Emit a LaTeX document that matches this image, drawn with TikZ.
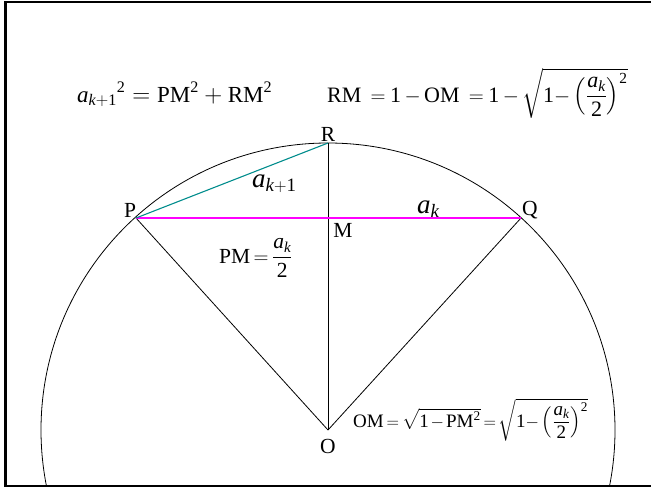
\documentclass[tikz,border=0pt]{standalone}
\usepackage{amsmath}
\usepackage{fontspec}
\setmainfont{Liberation Serif}
\newcommand\Va{\mathit{a}}
\newcommand\Vk{\mathit{k}}
\newcommand\Dg[1]{\mathrm{#1}}
\definecolor{tealline}{RGB}{0,140,140}
\definecolor{magline}{RGB}{255,0,255}
\tikzset{
  lbl/.style={inner sep=0pt,font=\fontsize{21.5}{24}\selectfont},
  biglbl/.style={inner sep=0pt,font=\fontsize{27}{30}\selectfont},
  topf/.style={inner sep=0pt,font=\fontsize{22}{25}\selectfont},
  botf/.style={inner sep=0pt,font=\fontsize{19}{22}\selectfont},
  tight/.style={execute at begin node={\thickmuskip=3mu plus 1mu\relax\medmuskip=2mu plus 1mu\relax}},
  midsp/.style={execute at begin node={\thickmuskip=4mu plus 1mu\relax\medmuskip=3mu plus 1mu\relax}},
  seg/.style={line width=0.8pt,black},
}
\begin{document}
\begin{tikzpicture}[x=1pt,y=-1pt]
\useasboundingbox (0,0) rectangle (651,488);
% frame
\draw[line width=2.5pt] (651,2) -- (5.5,2) -- (5.5,486) -- (651,486);
% circle
\begin{scope}
\clip (5.5,2) rectangle (651,486);
\draw[line width=0.8pt] (328,430) circle[radius=287];
\end{scope}
% points
\coordinate (O) at (328,430);
\coordinate (R) at (328,143);
\coordinate (P) at (136,218);
\coordinate (Q) at (521,218);
\coordinate (M) at (328,218);
% segments
\draw[seg] (O) -- (P);
\draw[seg] (O) -- (Q);
\draw[seg] (O) -- (R);
\draw[line width=1.1pt,magline] (P) -- (Q);
\draw[line width=1.1pt,tealline] (P) -- (R);
% point labels
\node[lbl] (lR) at (328,134) {R};
\node[lbl] (lP) at (130,210) {P};
\node[lbl] (lQ) at (530,210) {Q};
\node[lbl] (lM) at (343,230) {M};
\node[lbl] (lO) at (328,446) {O};
% side labels
\node[biglbl,anchor=base west] (lak1) at (252,187) {$\Va_{\Vk+\Dg{1}}$};
\node[biglbl,anchor=base west] (lak) at (417,213) {$\Va_{\Vk}$};
% formulas
\node[topf,anchor=base west,font=\fontsize{23}{26}\selectfont] (f1) at (77,102) {${\Va_{\Vk+\Dg{1}}}^{\Dg{2}} = \mathrm{PM}^{\Dg{2}} + \mathrm{RM}^{\Dg{2}}$};
\node[topf,midsp,anchor=base west] (f2) at (327,102) {$\mathrm{RM}\;= \Dg{1} - \mathrm{OM}\;= \Dg{1} - \sqrt{\Dg{1}{-}\left(\dfrac{\Va_{\Vk}}{\Dg{2}}\right)^{\Dg{2}}}$};
\node[lbl,tight,anchor=base west] (f3) at (219,263) {$\mathrm{PM} = \dfrac{\Va_{\Vk}}{\Dg{2}}$};
\node[botf,tight,anchor=base west] (f4) at (353,427) {$\mathrm{OM} = \sqrt{\Dg{1} - \mathrm{PM}^{\Dg{2}}} = \sqrt{\Dg{1}{-}\left(\dfrac{\Va_{\Vk}}{\Dg{2}}\right)^{\Dg{2}}}$};
\end{tikzpicture}
\end{document}
